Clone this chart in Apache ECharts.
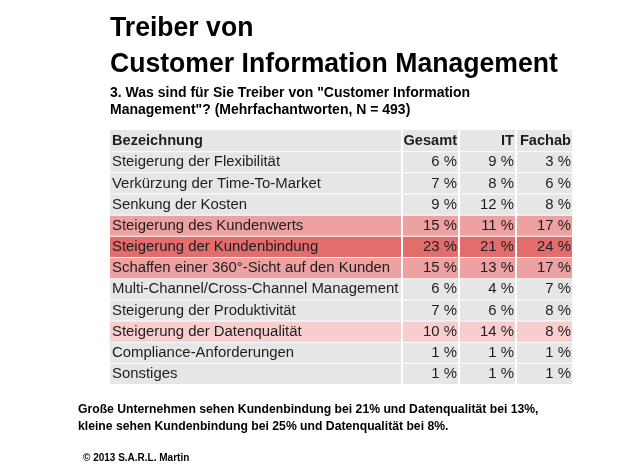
<!DOCTYPE html>
<html><head><meta charset="utf-8">
<script src="https://cdn.jsdelivr.net/npm/echarts@6/dist/echarts.min.js"></script>
<style>html,body{margin:0;padding:0;background:#fff}#c{width:626px;height:466px}</style>
</head><body><div id="c"></div>
<script>
const headers = ["Bezeichnung", "Gesamt", "IT", "Fachab"];
const categories = [
  "Steigerung der Flexibilität",
  "Verkürzung der Time-To-Market",
  "Senkung der Kosten",
  "Steigerung des Kundenwerts",
  "Steigerung der Kundenbindung",
  "Schaffen einer 360°-Sicht auf den Kunden",
  "Multi-Channel/Cross-Channel Management",
  "Steigerung der Produktivität",
  "Steigerung der Datenqualität",
  "Compliance-Anforderungen",
  "Sonstiges"
];
const gesamt = [6, 7, 9, 15, 23, 15, 6, 7, 10, 1, 1];
const itValues = [9, 8, 12, 11, 21, 13, 4, 6, 14, 1, 1];
const fachab = [3, 6, 8, 17, 24, 17, 7, 8, 8, 1, 1];
const highlight = [0, 0, 0, 2, 3, 2, 0, 0, 1, 0, 0];

const shadeColors = ['#e6e6e6', '#f7cdcd', '#eea1a1', '#e26d6d'];
const colEdges = [0, 292, 349, 406, 462];
const FONT = '"Liberation Sans", Arial, sans-serif';

const rows = ["header"].concat(categories);
const cells = [];
headers.forEach((h, c) => cells.push([c, 0, h, 0, 1]));
categories.forEach((cat, i) => {
  const vals = [cat, gesamt[i] + ' %', itValues[i] + ' %', fachab[i] + ' %'];
  vals.forEach((v, c) => cells.push([c, i + 1, v, highlight[i], 0]));
});

const chart = echarts.init(document.getElementById('c'), null, {renderer: 'canvas'});
chart.setOption({
  animation: false,
  backgroundColor: '#fff',
  grid: {left: 110, top: 130, width: 462, height: 254},
  xAxis: {type: 'value', min: 0, max: 462, show: false},
  yAxis: {type: 'category', data: rows, inverse: true, show: false},
  graphic: [
    {type: 'text', x: 110, y: 14, scaleX: 0.95, style: {text: 'Treiber von', font: 'bold 28px ' + FONT, fill: '#000'}},
    {type: 'text', x: 110, y: 50, scaleX: 0.95, style: {text: 'Customer Information Management', font: 'bold 28px ' + FONT, fill: '#000'}},
    {type: 'text', left: 110, top: 85, style: {text: '3. Was sind für Sie Treiber von "Customer Information\nManagement"? (Mehrfachantworten, N = 493)', font: 'bold 14px ' + FONT, fill: '#000', lineHeight: 17}},
    {type: 'text', left: 78, top: 401, style: {text: 'Große Unternehmen sehen Kundenbindung bei 21% und Datenqualität bei 13%,\nkleine sehen Kundenbindung bei 25% und Datenqualität bei 8%.', font: 'bold 12.2px ' + FONT, fill: '#000', lineHeight: 17}},
    {type: 'text', left: 83, top: 453, style: {text: '© 2013 S.A.R.L. Martin', font: 'bold 10px ' + FONT, fill: '#000'}}
  ],
  series: [{
    type: 'custom',
    data: cells,
    renderItem: function (params, api) {
      const c = api.value(0), r = api.value(1);
      const text = cells[params.dataIndex][2];
      const shade = api.value(3), isHead = api.value(4);
      const p0 = api.coord([colEdges[c], r]);
      const p1 = api.coord([colEdges[c + 1], r]);
      const h = api.size([0, 1])[1];
      const x0 = p0[0] + (c === 0 ? 0 : 1);
      const x1 = p1[0] - (c === 3 ? 0 : 1);
      const y0 = p0[1] - h / 2 + (r === 0 ? 0 : 1);
      const y1 = p0[1] + h / 2;
      const left = c === 0;
      return {
        type: 'group',
        children: [
          {type: 'rect', shape: {x: x0, y: y0, width: x1 - x0, height: y1 - y0},
           style: {fill: shadeColors[shade]}},
          {type: 'text', x: left ? x0 + 2 : x1 - 1, y: p0[1] + 0.5,
           style: {text: text, font: (isHead ? 'bold 14.6px ' : '14.9px ') + FONT,
                   fill: '#1e1e1e', align: left ? 'left' : 'right', verticalAlign: 'middle'}}
        ]
      };
    }
  }]
});
</script></body></html>
